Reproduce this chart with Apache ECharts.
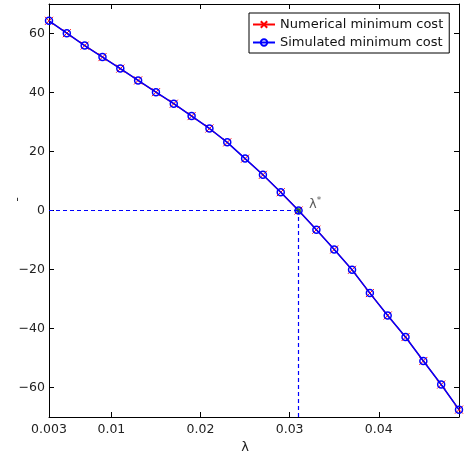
<!DOCTYPE html>
<html>
<head>
<meta charset="utf-8">
<script src="https://cdn.jsdelivr.net/npm/echarts@6.0.0/dist/echarts.min.js"></script>
<style>
  html, body { margin: 0; padding: 0; background: #fff; }
  #main { width: 466px; height: 451px; }
</style>
</head>
<body>
<div id="main"></div>
<script>
// data
var lambdas = [0.003, 0.005, 0.007, 0.009, 0.011, 0.013, 0.015, 0.017, 0.019, 0.021, 0.023, 0.025,
               0.027, 0.029, 0.031, 0.033, 0.035, 0.037, 0.039, 0.041, 0.043, 0.045, 0.047, 0.049];
var numericalCost = [64.3, 60.1, 55.9, 52.0, 48.1, 44.1, 40.1, 36.2, 32.0, 27.8, 23.1, 17.6,
                     12.1, 6.2, 0, -6.5, -13.2, -20.1, -28.0, -35.6, -42.9, -51.0, -59.0, -67.5];
var simulatedCost = [64.3, 60.1, 55.9, 52.0, 48.1, 44.1, 40.1, 36.2, 32.0, 27.8, 23.1, 17.6,
                     12.1, 6.2, 0, -6.5, -13.2, -20.1, -28.0, -35.6, -42.9, -51.0, -59.0, -67.5];
var lambdaStar = [0.031, 0];
var xTicks = [0.003, 0.01, 0.02, 0.03, 0.04];
var yTicks = [-60, -40, -20, 0, 20, 40, 60];

var xRange = [0.003, 0.049];
var yRange = [-70, 70];

var myChart = echarts.init(document.getElementById('main'));

function pairs(xs, ys) {
    return xs.map(function (x, i) { return [x, ys[i]]; });
}

var font = 'DejaVu Sans, sans-serif';
var crossPath = 'path://M0,0L10,10M10,0L0,10';

function boxAxis(kind, pos, ticks, show) {
    return {
        type: 'value',
        position: pos,
        min: kind == 'x' ? xRange[0] : yRange[0],
        max: kind == 'x' ? xRange[1] : yRange[1],
        axisLine: { show: true, onZero: false, lineStyle: { color: '#000', width: 1 } },
        axisTick: { show: true, inside: true, length: 5, customValues: ticks, lineStyle: { color: '#000' } },
        axisLabel: {
            show: show,
            customValues: ticks,
            color: '#222',
            fontSize: 12.5,
            fontFamily: font,
            margin: kind == 'x' ? 6 : 4,
            formatter: function (v) { return String(v).replace('-', '\u2212'); }
        },
        splitLine: { show: false }
    };
}

var xBottom = boxAxis('x', 'bottom', xTicks, true);
xBottom.name = '\u03bb';
xBottom.nameLocation = 'middle';
xBottom.nameGap = 21;
xBottom.nameTextStyle = { color: '#222', fontSize: 13, fontFamily: font, padding: [0, 18, 0, 0] };

var option = {
    backgroundColor: '#fff',
    animation: false,
    grid: { left: 49, right: 7, top: 4, bottom: 34, outerBoundsMode: 'none' },
    xAxis: [xBottom, boxAxis('x', 'top', xTicks, false)],
    yAxis: [boxAxis('y', 'left', yTicks, true), boxAxis('y', 'right', yTicks, false)],
    legend: {
        data: ['Numerical minimum cost', 'Simulated minimum cost'],
        orient: 'vertical',
        left: 249,
        top: 13,
        itemWidth: 22,
        itemHeight: 8,
        itemGap: 5,
        padding: [5, 6, 4, 3],
        borderColor: '#000',
        borderWidth: 1,
        backgroundColor: '#fff',
        textStyle: { color: '#111', fontSize: 13, fontFamily: font }
    },
    graphic: [{
        type: 'text',
        left: 11,
        top: 197,
        rotation: Math.PI / 2,
        style: { text: '-', fill: '#333', font: '13px ' + font }
    }],
    series: [
        {
            name: 'Numerical minimum cost',
            type: 'line',
            data: pairs(lambdas, numericalCost),
            symbol: crossPath,
            symbolSize: 8,
            showAllSymbol: true,
            clip: false,
            itemStyle: { color: '#ff0000', borderColor: '#ff0000', borderWidth: 1 },
            lineStyle: { color: '#ff0000', width: 1.2 },
            z: 2
        },
        {
            name: 'Simulated minimum cost',
            type: 'line',
            data: pairs(lambdas, simulatedCost),
            symbol: 'circle',
            symbolSize: 7,
            showAllSymbol: true,
            clip: false,
            itemStyle: { color: 'rgba(0,0,0,0)', borderColor: '#0000ff', borderWidth: 1.5 },
            lineStyle: { color: '#0000ff', width: 1.5 },
            markLine: {
                silent: true,
                symbol: ['none', 'none'],
                label: { show: false },
                lineStyle: { color: '#0000ff', type: [4, 3], width: 1.2 },
                data: [
                    [{ coord: [xRange[0], lambdaStar[1]] }, { coord: lambdaStar }],
                    [{ coord: [lambdaStar[0], yRange[0]] }, { coord: lambdaStar }]
                ]
            },
            z: 3
        },
        {
            name: 'lambda star',
            type: 'scatter',
            data: [lambdaStar],
            symbol: 'circle',
            symbolSize: 5,
            itemStyle: { color: '#1a7a1a' },
            label: {
                show: true,
                position: 'right',
                offset: [3, -6],
                formatter: '{a|\u03bb}{b|*}',
                rich: {
                    a: { fontSize: 13, color: '#333', fontFamily: font },
                    b: { fontSize: 9, color: '#333', fontFamily: font, padding: [0, 0, 7, 0] }
                }
            },
            z: 4
        }
    ]
};

myChart.setOption(option);
</script>
</body>
</html>
